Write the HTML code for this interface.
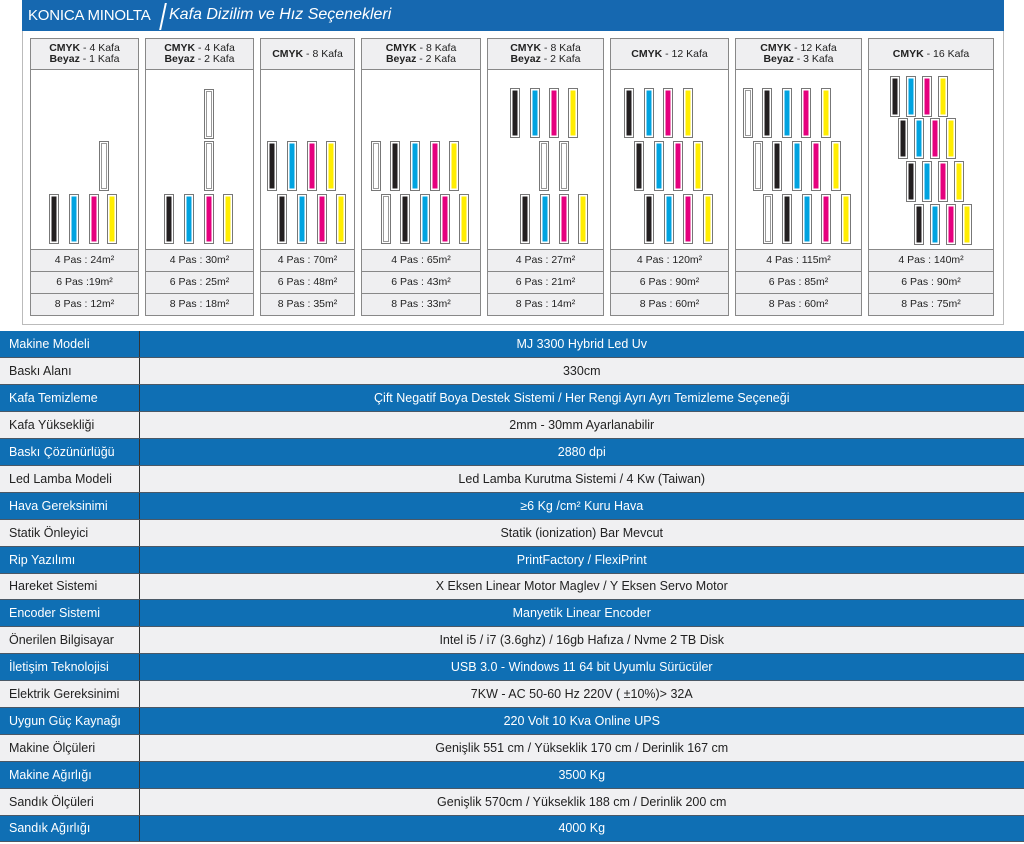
<!DOCTYPE html>
<html><head><meta charset="utf-8"><style>
*{margin:0;padding:0;box-sizing:border-box}
body{width:1024px;height:844px;background:#fff;position:relative;overflow:hidden;font-family:"Liberation Sans",sans-serif}
.hdr{position:absolute;left:22px;top:0;width:982px;height:31px;background:#1668b0;color:#fff}
.hdr .b{position:absolute;left:6px;top:7px;font-size:15px;letter-spacing:-0.2px;white-space:nowrap}
.hdr .s{position:absolute;left:140px;top:3px;width:2px;height:27px;background:#fff;transform:skewX(-12deg)}
.hdr .t{position:absolute;left:147px;top:6px;font-size:16px;font-style:italic;white-space:nowrap}
.frame{position:absolute;left:22px;top:31px;width:982px;height:294px;border:1px solid #bbb;border-top:none}
.p{position:absolute;top:38px;height:278px;border:1px solid #888;background:#fff}
.p .h{height:31px;background:#efeff1;border-bottom:1px solid #888;font-size:10.5px;text-align:center;line-height:11px;color:#222;display:flex;flex-direction:column;justify-content:center}
.p .r{position:absolute;left:0;right:0;height:22px;background:#efeff1;border-top:1px solid #888;font-size:10.5px;text-align:center;line-height:21px;color:#222}
svg{position:absolute;left:0;top:0}
table{position:absolute;left:0;top:331px;width:1024px;border-collapse:collapse;font-size:12.5px}
td{height:26.9px;padding:0;border-bottom:1px solid #4a5866}
td.l{width:139px;padding-left:9px;border-right:1px solid #333}
td.v{text-align:center}
tr.bl td{background:#0f6fb4;color:#fff}
tr.gr td{background:#f0f0f2;color:#222}
</style></head><body>
<div class="hdr"><span class="b">KONICA MINOLTA</span><span class="s"></span><span class="t">Kafa Dizilim ve Hız Seçenekleri</span></div>
<div class="frame"></div>

<div class="p" style="left:30px;width:109px"><div class="h"><div><b>CMYK</b> - 4 Kafa</div><div><b>Beyaz</b> - 1 Kafa</div></div><div class="r" style="top:210px">4 Pas : 24m²</div><div class="r" style="top:232px">6 Pas :19m²</div><div class="r" style="top:254px">8 Pas : 12m²</div></div>
<div class="p" style="left:145px;width:109px"><div class="h"><div><b>CMYK</b> - 4 Kafa</div><div><b>Beyaz</b> - 2 Kafa</div></div><div class="r" style="top:210px">4 Pas : 30m²</div><div class="r" style="top:232px">6 Pas : 25m²</div><div class="r" style="top:254px">8 Pas : 18m²</div></div>
<div class="p" style="left:260px;width:95px"><div class="h"><div><b>CMYK</b> - 8 Kafa</div></div><div class="r" style="top:210px">4 Pas : 70m²</div><div class="r" style="top:232px">6 Pas : 48m²</div><div class="r" style="top:254px">8 Pas : 35m²</div></div>
<div class="p" style="left:361px;width:120px"><div class="h"><div><b>CMYK</b> - 8 Kafa</div><div><b>Beyaz</b> - 2 Kafa</div></div><div class="r" style="top:210px">4 Pas : 65m²</div><div class="r" style="top:232px">6 Pas : 43m²</div><div class="r" style="top:254px">8 Pas : 33m²</div></div>
<div class="p" style="left:487px;width:117px"><div class="h"><div><b>CMYK</b> - 8 Kafa</div><div><b>Beyaz</b> - 2 Kafa</div></div><div class="r" style="top:210px">4 Pas : 27m²</div><div class="r" style="top:232px">6 Pas : 21m²</div><div class="r" style="top:254px">8 Pas : 14m²</div></div>
<div class="p" style="left:610px;width:119px"><div class="h"><div><b>CMYK</b> - 12 Kafa</div></div><div class="r" style="top:210px">4 Pas : 120m²</div><div class="r" style="top:232px">6 Pas : 90m²</div><div class="r" style="top:254px">8 Pas : 60m²</div></div>
<div class="p" style="left:735px;width:127px"><div class="h"><div><b>CMYK</b> - 12 Kafa</div><div><b>Beyaz</b> - 3 Kafa</div></div><div class="r" style="top:210px">4 Pas : 115m²</div><div class="r" style="top:232px">6 Pas : 85m²</div><div class="r" style="top:254px">8 Pas : 60m²</div></div>
<div class="p" style="left:868px;width:126px"><div class="h"><div><b>CMYK</b> - 16 Kafa</div></div><div class="r" style="top:210px">4 Pas : 140m²</div><div class="r" style="top:232px">6 Pas : 90m²</div><div class="r" style="top:254px">8 Pas : 75m²</div></div>

<svg width="1024" height="330" viewBox="0 0 1024 330">
<defs>
<symbol id="K" overflow="visible"><rect x="0.5" y="0.5" width="9" height="49" fill="#fff" stroke="#777"/><rect x="2.5" y="2.5" width="5" height="45" fill="#231f20"/></symbol>
<symbol id="C" overflow="visible"><rect x="0.5" y="0.5" width="9" height="49" fill="#fff" stroke="#777"/><rect x="2.5" y="2.5" width="5" height="45" fill="#00a3e0"/></symbol>
<symbol id="M" overflow="visible"><rect x="0.5" y="0.5" width="9" height="49" fill="#fff" stroke="#777"/><rect x="2.5" y="2.5" width="5" height="45" fill="#e5007e"/></symbol>
<symbol id="Y" overflow="visible"><rect x="0.5" y="0.5" width="9" height="49" fill="#fff" stroke="#777"/><rect x="2.5" y="2.5" width="5" height="45" fill="#ffed00"/></symbol>
<symbol id="W" overflow="visible"><rect x="0.5" y="0.5" width="9" height="49" fill="#fff" stroke="#777"/><rect x="2.5" y="2.5" width="5" height="45" fill="#fff" stroke="#999"/></symbol>
<symbol id="k" overflow="visible"><rect x="0.5" y="0.5" width="9" height="40" fill="#fff" stroke="#777"/><rect x="2.5" y="2.5" width="5" height="36" fill="#231f20"/></symbol>
<symbol id="c" overflow="visible"><rect x="0.5" y="0.5" width="9" height="40" fill="#fff" stroke="#777"/><rect x="2.5" y="2.5" width="5" height="36" fill="#00a3e0"/></symbol>
<symbol id="m" overflow="visible"><rect x="0.5" y="0.5" width="9" height="40" fill="#fff" stroke="#777"/><rect x="2.5" y="2.5" width="5" height="36" fill="#e5007e"/></symbol>
<symbol id="y" overflow="visible"><rect x="0.5" y="0.5" width="9" height="40" fill="#fff" stroke="#777"/><rect x="2.5" y="2.5" width="5" height="36" fill="#ffed00"/></symbol>
</defs>
<use href="#K" x="49" y="194"/><use href="#C" x="69" y="194"/><use href="#M" x="89" y="194"/><use href="#Y" x="107" y="194"/><use href="#W" x="99" y="141"/>
<use href="#K" x="164" y="194"/><use href="#C" x="184" y="194"/><use href="#M" x="204" y="194"/><use href="#Y" x="223" y="194"/><use href="#W" x="204" y="141"/><use href="#W" x="204" y="89"/>
<use href="#K" x="267" y="141"/><use href="#C" x="287" y="141"/><use href="#M" x="307" y="141"/><use href="#Y" x="326" y="141"/>
<use href="#K" x="277" y="194"/><use href="#C" x="297" y="194"/><use href="#M" x="317" y="194"/><use href="#Y" x="336" y="194"/>
<use href="#W" x="371" y="141"/><use href="#K" x="390" y="141"/><use href="#C" x="410" y="141"/><use href="#M" x="430" y="141"/><use href="#Y" x="449" y="141"/>
<use href="#W" x="381" y="194"/><use href="#K" x="400" y="194"/><use href="#C" x="420" y="194"/><use href="#M" x="440" y="194"/><use href="#Y" x="459" y="194"/>
<use href="#K" x="510" y="88"/><use href="#C" x="530" y="88"/><use href="#M" x="549" y="88"/><use href="#Y" x="568" y="88"/>
<use href="#W" x="539" y="141"/><use href="#W" x="559" y="141"/>
<use href="#K" x="520" y="194"/><use href="#C" x="540" y="194"/><use href="#M" x="559" y="194"/><use href="#Y" x="578" y="194"/>
<use href="#K" x="624" y="88"/><use href="#C" x="644" y="88"/><use href="#M" x="663" y="88"/><use href="#Y" x="683" y="88"/>
<use href="#K" x="634" y="141"/><use href="#C" x="654" y="141"/><use href="#M" x="673" y="141"/><use href="#Y" x="693" y="141"/>
<use href="#K" x="644" y="194"/><use href="#C" x="664" y="194"/><use href="#M" x="683" y="194"/><use href="#Y" x="703" y="194"/>
<use href="#W" x="743" y="88"/><use href="#K" x="762" y="88"/><use href="#C" x="782" y="88"/><use href="#M" x="801" y="88"/><use href="#Y" x="821" y="88"/>
<use href="#W" x="753" y="141"/><use href="#K" x="772" y="141"/><use href="#C" x="792" y="141"/><use href="#M" x="811" y="141"/><use href="#Y" x="831" y="141"/>
<use href="#W" x="763" y="194"/><use href="#K" x="782" y="194"/><use href="#C" x="802" y="194"/><use href="#M" x="821" y="194"/><use href="#Y" x="841" y="194"/>
<use href="#k" x="890" y="76"/><use href="#c" x="906" y="76"/><use href="#m" x="922" y="76"/><use href="#y" x="938" y="76"/>
<use href="#k" x="898" y="118"/><use href="#c" x="914" y="118"/><use href="#m" x="930" y="118"/><use href="#y" x="946" y="118"/>
<use href="#k" x="906" y="161"/><use href="#c" x="922" y="161"/><use href="#m" x="938" y="161"/><use href="#y" x="954" y="161"/>
<use href="#k" x="914" y="204"/><use href="#c" x="930" y="204"/><use href="#m" x="946" y="204"/><use href="#y" x="962" y="204"/>
</svg>

<table>
<tr class="bl"><td class="l">Makine Modeli</td><td class="v">MJ 3300 Hybrid Led Uv</td></tr>
<tr class="gr"><td class="l">Baskı Alanı</td><td class="v">330cm</td></tr>
<tr class="bl"><td class="l">Kafa Temizleme</td><td class="v">Çift Negatif Boya Destek Sistemi / Her Rengi Ayrı Ayrı Temizleme Seçeneği</td></tr>
<tr class="gr"><td class="l">Kafa Yüksekliği</td><td class="v">2mm - 30mm Ayarlanabilir</td></tr>
<tr class="bl"><td class="l">Baskı Çözünürlüğü</td><td class="v">2880 dpi</td></tr>
<tr class="gr"><td class="l">Led Lamba Modeli</td><td class="v">Led Lamba Kurutma Sistemi / 4 Kw (Taiwan)</td></tr>
<tr class="bl"><td class="l">Hava Gereksinimi</td><td class="v">≥6 Kg /cm² Kuru Hava</td></tr>
<tr class="gr"><td class="l">Statik Önleyici</td><td class="v">Statik (ionization) Bar Mevcut</td></tr>
<tr class="bl"><td class="l">Rip Yazılımı</td><td class="v">PrintFactory / FlexiPrint</td></tr>
<tr class="gr"><td class="l">Hareket Sistemi</td><td class="v">X Eksen Linear Motor Maglev / Y Eksen Servo Motor</td></tr>
<tr class="bl"><td class="l">Encoder Sistemi</td><td class="v">Manyetik Linear Encoder</td></tr>
<tr class="gr"><td class="l">Önerilen Bilgisayar</td><td class="v">Intel i5 / i7 (3.6ghz) / 16gb Hafıza / Nvme 2 TB Disk</td></tr>
<tr class="bl"><td class="l">İletişim Teknolojisi</td><td class="v">USB 3.0 - Windows 11 64 bit Uyumlu Sürücüler</td></tr>
<tr class="gr"><td class="l">Elektrik Gereksinimi</td><td class="v">7KW - AC 50-60 Hz 220V ( ±10%)&gt; 32A</td></tr>
<tr class="bl"><td class="l">Uygun Güç Kaynağı</td><td class="v">220 Volt 10 Kva Online UPS</td></tr>
<tr class="gr"><td class="l">Makine Ölçüleri</td><td class="v">Genişlik 551 cm / Yükseklik 170 cm / Derinlik 167 cm</td></tr>
<tr class="bl"><td class="l">Makine Ağırlığı</td><td class="v">3500 Kg</td></tr>
<tr class="gr"><td class="l">Sandık Ölçüleri</td><td class="v">Genişlik 570cm / Yükseklik 188 cm / Derinlik 200 cm</td></tr>
<tr class="bl"><td class="l">Sandık Ağırlığı</td><td class="v">4000 Kg</td></tr>
</table>
</body></html>
